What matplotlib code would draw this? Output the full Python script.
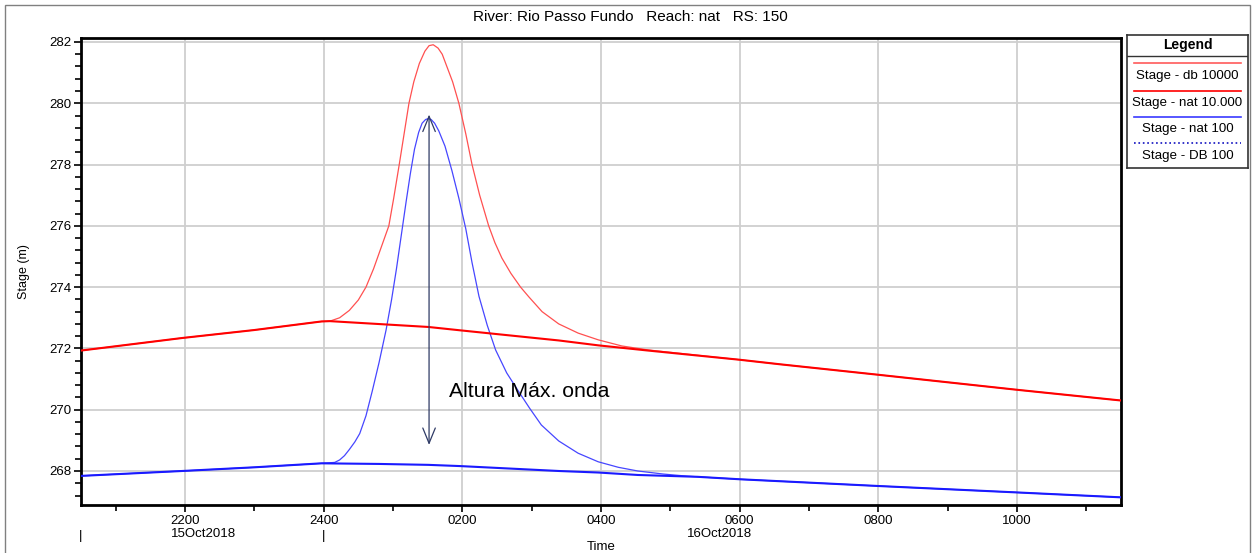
import matplotlib
matplotlib.use('Agg')
import matplotlib.pyplot as plt
from matplotlib.ticker import MultipleLocator, FuncFormatter
from matplotlib.transforms import blended_transform_factory
from matplotlib.lines import Line2D
from matplotlib.patches import Rectangle

plt.rcParams['font.family'] = ['Liberation Sans', 'DejaVu Sans']

# time in hours counted from 00:00 on 15Oct2018 (24 = 2400, 26 = 0200 next day)
t_nat_10000 = [20.50, 21.96, 23.00, 23.97, 24.09, 25.51, 25.97, 27.39, 27.96, 28.68, 30.00, 30.59, 32.00, 34.00, 35.50]
stage_nat_10000 = [271.93, 272.34, 272.60, 272.88, 272.89, 272.70, 272.59, 272.26, 272.10, 271.93, 271.63, 271.48, 271.14, 270.65, 270.30]

t_db_10000 = [24.23, 24.37, 24.50, 24.61, 24.72, 24.83, 24.94, 25.01, 25.09, 25.16, 25.23, 25.30, 25.38,
              25.46, 25.52, 25.58, 25.65, 25.71, 25.76, 25.86, 25.95, 26.05, 26.14, 26.25, 26.38, 26.47, 26.57,
              26.70, 26.84, 26.96, 27.15, 27.39, 27.67, 27.96, 28.30, 28.68]
stage_db_10000 = [273.00, 273.24, 273.58, 274.00, 274.60, 275.30, 276.00, 276.90, 278.00, 279.00, 280.00, 280.70, 281.30,
                  281.70, 281.88, 281.91, 281.80, 281.60, 281.30, 280.70, 280.00, 279.00, 278.00, 277.00, 276.00, 275.45, 274.95,
                  274.45, 274.00, 273.68, 273.20, 272.80, 272.50, 272.28, 272.08, 271.95]

t_nat_100 = [20.50, 21.96, 23.00, 23.97, 24.80, 25.51, 25.97, 27.39, 27.96, 28.53, 29.39, 30.00, 32.00, 34.00, 35.50]
stage_nat_100 = [267.84, 268.00, 268.12, 268.25, 268.23, 268.20, 268.16, 268.00, 267.95, 267.87, 267.81, 267.73, 267.51, 267.30, 267.14]

t_db_100 = [24.16, 24.23, 24.30, 24.37, 24.45, 24.52, 24.61, 24.70, 24.80, 24.90, 24.98, 25.05, 25.12, 25.19, 25.25, 25.31,
            25.37, 25.42, 25.47, 25.51, 25.55, 25.60, 25.66, 25.75, 25.85, 25.95, 26.05, 26.14, 26.24, 26.36, 26.48,
            26.64, 26.81, 26.97, 27.14, 27.39, 27.67, 27.96, 28.25, 28.53, 28.90, 29.25]
stage_db_100 = [268.28, 268.36, 268.50, 268.70, 268.95, 269.22, 269.80, 270.60, 271.55, 272.60, 273.60, 274.60, 275.70, 276.80,
                277.70, 278.50, 279.05, 279.35, 279.47, 279.50, 279.47, 279.35, 279.10, 278.60, 277.80, 276.90, 275.90, 274.80,
                273.70, 272.75, 271.95, 271.20, 270.60, 270.05, 269.50, 268.98, 268.58, 268.30, 268.12, 268.00, 267.90, 267.83]

legend_labels = ['Stage - db 10000', 'Stage - nat 10.000', 'Stage - nat 100', 'Stage - DB 100']
legend_colors = ['#ff5a5a', '#ff0000', '#3a3aff', '#1010c0']

# dam-break runs share the undisturbed curve until the wave arrives and after it passes
t_db_10000_full = t_nat_10000[:5] + t_db_10000 + t_nat_10000[10:]
stage_db_10000_full = stage_nat_10000[:5] + stage_db_10000 + stage_nat_10000[10:]
t_db_100_full = t_nat_100[:4] + t_db_100 + t_nat_100[11:]
stage_db_100_full = stage_nat_100[:4] + stage_db_100 + stage_nat_100[11:]

W, H = 1252, 553
fig = plt.figure(figsize=(W / 100, H / 100), dpi=100)
ax = fig.add_axes([81 / W, (H - 505) / H, (1121 - 81) / W, (505 - 38) / H])

ax.plot(t_db_10000_full, stage_db_10000_full, color='#ff5050', lw=0.9, zorder=3)
ax.plot(t_nat_10000, stage_nat_10000, color='#ff0000', lw=1.5, zorder=4)
ax.plot(t_db_100_full, stage_db_100_full, color='#4646ff', lw=0.9, zorder=3)
ax.plot(t_nat_100, stage_nat_100, color='#1a1aff', lw=1.5, zorder=4)

ax.set_xlim(20.5, 35.5)
ax.set_ylim(266.89, 282.13)

ax.xaxis.set_major_locator(MultipleLocator(2))
ax.xaxis.set_minor_locator(MultipleLocator(1))
ax.yaxis.set_major_locator(MultipleLocator(2))
ax.yaxis.set_minor_locator(MultipleLocator(0.4))


def hhmm(h, pos):
    h = int(round(h))
    if h % 24 == 0:
        return '2400'
    return '%02d00' % (h % 24)


ax.xaxis.set_major_formatter(FuncFormatter(hhmm))
ax.yaxis.set_major_formatter(FuncFormatter(lambda v, p: '%d' % round(v)))
ax.tick_params(axis='both', which='major', labelsize=9.5, length=5, width=1.2, color='black')
ax.tick_params(axis='both', which='minor', length=4, width=1.2)
ax.tick_params(axis='x', which='major', pad=2)
ax.tick_params(axis='y', which='major', pad=2)
ax.grid(True, which='major', color='#cfcfcf', lw=1.3, zorder=0)
for s in ax.spines.values():
    s.set_linewidth(2)
    s.set_color('black')

ax.set_ylabel('Stage (m)', fontsize=9, labelpad=14)

# date row under the hour labels
tr = blended_transform_factory(ax.transData, ax.transAxes)
ax.text(22.26, -0.062, '15Oct2018', transform=tr, ha='center', va='center', fontsize=9.5)
ax.text(29.71, -0.062, '16Oct2018', transform=tr, ha='center', va='center', fontsize=9.5)
ax.text(20.5, -0.067, '|', transform=tr, ha='center', va='center', fontsize=9.5)
ax.text(24.0, -0.067, '|', transform=tr, ha='center', va='center', fontsize=9.5)
ax.text(0.5, -0.09, 'Time', transform=ax.transAxes, ha='center', va='center', fontsize=9.5)

# max wave height annotation
ax.annotate('', xy=(25.52, 268.85), xytext=(25.52, 279.63),
            arrowprops=dict(arrowstyle='<->,head_length=1.1,head_width=0.45', color='#2f3b66', lw=0.9,
                            shrinkA=0, shrinkB=0), zorder=6)
ax.text(25.81, 270.6, 'Altura Máx. onda', fontsize=15.3, ha='left', va='center', zorder=6)

fig.text(630 / W, 1 - 17 / H, 'River: Rio Passo Fundo   Reach: nat   RS: 150', ha='center', va='center', fontsize=11)

# outer frame
fig.patches.append(Rectangle((5 / W, -0.05), (1250 - 5) / W, 1 - 5 / H + 0.05, transform=fig.transFigure,
                             fill=False, edgecolor='#808080', lw=1))

# legend box with the line sample above each label
lax = fig.add_axes([1127 / W, (H - 168) / H, (1248 - 1127) / W, (168 - 35) / H])
lax.set_xlim(1127, 1248)
lax.set_ylim(168, 35)
lax.set_xticks([])
lax.set_yticks([])
for s in lax.spines.values():
    s.set_linewidth(1.2)
    s.set_color('#333333')
lax.text(1187.5, 45.5, 'Legend', fontsize=10, fontweight='bold', ha='center', va='center')
lax.add_line(Line2D([1127, 1248], [56, 56], color='#333333', lw=1))
line_y = [63.3, 90.7, 117.3, 143.3]
text_y = [76, 102.7, 129.3, 156]
styles = ['-', '-', '-', ':']
for lbl, c, ly, ty, ls in zip(legend_labels, legend_colors, line_y, text_y, styles):
    lax.add_line(Line2D([1134, 1241], [ly, ly], color=c, lw=1.2, ls=ls))
    lax.text(1187.5, ty, lbl, fontsize=9.6, ha='center', va='center')

plt.savefig('out.png', dpi=100)
plt.close()
